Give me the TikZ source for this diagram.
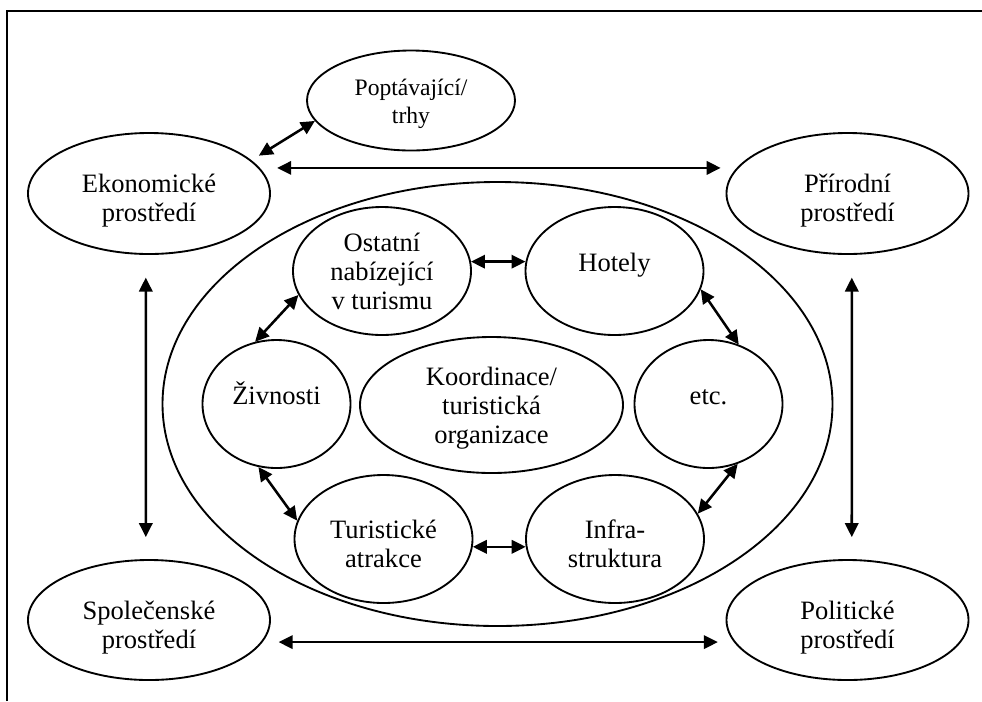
\documentclass[tikz,border=0pt]{standalone}
\usepackage{fontspec}
\setmainfont{Liberation Serif}
\usetikzlibrary{shapes.geometric,arrows.meta}

\tikzset{
  oval/.style 2 args={ellipse, draw, line width=1.4pt, inner sep=0pt,
    minimum width=#1, minimum height=#2, align=center,
    font=\fontsize{19.9pt}{21.75pt}\selectfont},
  % vertical placement of the text block inside an oval
  % (the box baseline is that of the last line)
  l1/.style={text height=15pt, text depth=15pt},
  l2/.style={text height=47pt, text depth=5pt},
  l3/.style={text height=59pt, text depth=2pt},
  tip/.style={Triangle[length=10.5pt,width=10pt]},
  link/.style={line width=1.9pt, {Triangle[length=10.5pt,width=10pt]}-{Triangle[length=10.5pt,width=10pt]}},
  frameline/.style={line width=1.7pt}
}

\begin{document}
\begin{tikzpicture}[x=0.75pt,y=-0.75pt]
\useasboundingbox (0,0) rectangle (982,701);

% frame (top and left rule)
\draw[frameline] (7,701) -- (7,11) -- (982,11);

% surrounding environment
\node[oval={156pt}{75pt}, text height=37.75pt, text depth=4pt,
      font=\fontsize{17.7pt}{21pt}\selectfont] (pop) at (411,100.5) {Poptávající/\\trhy};
\node[oval={181.5pt}{90.75pt}, l2] (eko) at (149,193.5) {Ekonomické\\prostředí};
\node[oval={181.5pt}{90.75pt}, l2] (pri) at (847.5,193.5) {Přírodní\\prostředí};
\node[oval={181.5pt}{90pt}, l2] (spo) at (149,620) {Společenské\\prostředí};
\node[oval={181.5pt}{90pt}, l2] (pol) at (847.5,620) {Politické\\prostředí};

% destination
\node[oval={502.5pt}{333pt}] (dest) at (497.5,404) {};

\node[oval={133.5pt}{96pt}, l3] (ost) at (382,271) {Ostatní\\nabízející\\v turismu};
\node[oval={133.5pt}{96pt}, l1] (hot) at (614.5,271) {Hotely};
\node[oval={111pt}{96pt}, l1] (ziv) at (276.5,404) {Živnosti};
\node[oval={197.25pt}{102pt}, l3] (koo) at (491.5,405) {Koordinace/\\turistická\\organizace};
\node[oval={111pt}{96pt}, l1] (etc) at (708.5,404) {etc.};
\node[oval={133.5pt}{96pt}, l2] (tur) at (383.5,539) {Turistické\\atrakce};
\node[oval={133.5pt}{96pt}, l2] (inf) at (615,539) {Infra-\\struktura};

% links between the environments
\draw[link, shorten <=6.5pt] (eko.18) -- (pop.192.5);
\draw[link, shorten <=13pt, shorten >=12pt] (eko.13) -- (pri.167);
\draw[link, shorten <=12pt, shorten >=12pt] (spo.-11.6) -- (pol.191.6);
\draw[link, shorten <=17pt, shorten >=16.5pt] (eko.-93) -- (spo.93);
\draw[link, shorten <=17pt, shorten >=16.5pt] (pri.-86) -- (pol.86);

% links inside the destination
\draw[link] (ost.6) -- (hot.174);
\draw[link] (ost.196) -- (ziv.109.5);
\draw[link] (hot.-12) -- (etc.63.4);
\draw[link] (ziv.254) -- (tur.168);
\draw[link] (etc.296) -- (inf.17.4);
\draw[link] (tur.-5) -- (inf.185);
\end{tikzpicture}
\end{document}
